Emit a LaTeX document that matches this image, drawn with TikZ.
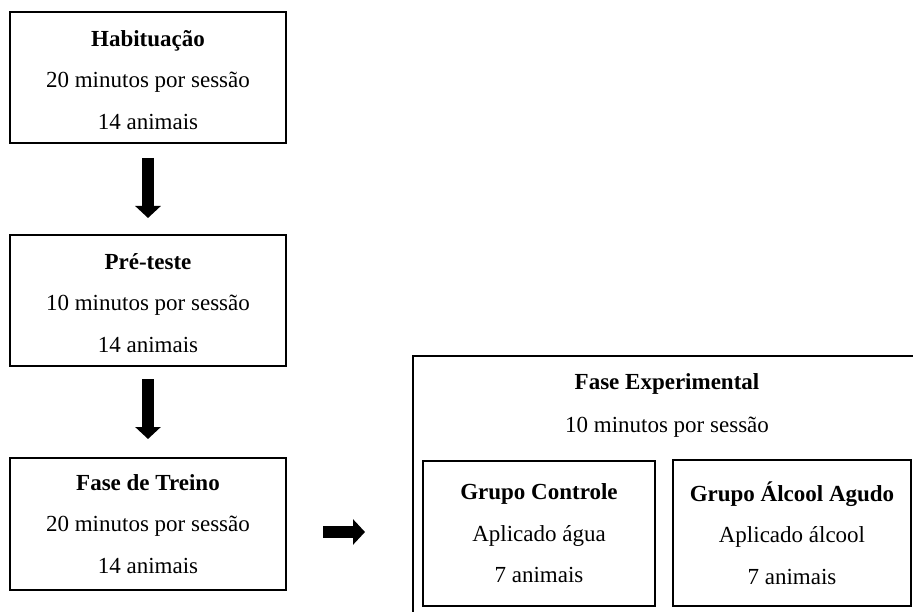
\documentclass[tikz,border=0pt]{standalone}
\usepackage{fontspec}
\setmainfont{Liberation Serif}
\usetikzlibrary{arrows.meta,calc}
\newcommand{\toppad}{\rule{0pt}{21pt}}
\tikzset{
  box/.style={draw=black, line width=2pt, rectangle, inner sep=0pt, align=center,
    font=\fontsize{23}{41.5}\selectfont},
  plain/.style={inner sep=0pt, align=center, font=\fontsize{23}{41.5}\selectfont},
  blockarrow/.style={line width=12pt, -{Triangle[width=25pt,length=12pt]}},
}
\begin{document}
\begin{tikzpicture}[x=1pt,y=-1pt]
\useasboundingbox (0,0) rectangle (913,612);
\fill[white] (0,0) rectangle (913,612);
% left column
\node[box, minimum width=276pt, minimum height=131pt] (b1) at (148,77.5)
  {\toppad\textbf{Habituação}\\20 minutos por sessão\\14 animais};
\node[box, minimum width=276pt, minimum height=131pt] (b2) at (148,300.5)
  {\toppad\textbf{Pré-teste}\\10 minutos por sessão\\14 animais};
\node[box, minimum width=276pt, minimum height=132pt] (b3) at (148,524)
  {\textbf{Fase de Treino}\\20 minutos por sessão\\14 animais};
% experimental phase
\begin{scope}
\clip (0,0) rectangle (913,612);
\node[box, minimum width=508pt, minimum height=260pt] (big) at (667,486) {};
\end{scope}
\node[plain] (t1) at (667,384) {\textbf{Fase Experimental}};
\node[plain] (t2) at (667,427) {10 minutos por sessão};
\node[box, minimum width=232pt, minimum height=145pt] (g1) at (539,533.5)
  {\textbf{Grupo Controle}\\Aplicado água\\7 animais};
\node[box, minimum width=238pt, minimum height=146pt] (g2) at (792,533)
  {\textbf{Grupo Álcool Agudo}\\Aplicado álcool\\7 animais};
% arrows
\draw[blockarrow, shorten <=14pt, shorten >=16pt] (b1.south) -- (b2.north);
\draw[blockarrow, shorten <=12pt, shorten >=18pt] (b2.south) -- (b3.north);
\draw[blockarrow, shorten <=36pt, shorten >=47pt] ([yshift=-8pt]b3.east) -- ([yshift=-8pt]b3.east -| big.west);
\end{tikzpicture}
\end{document}
